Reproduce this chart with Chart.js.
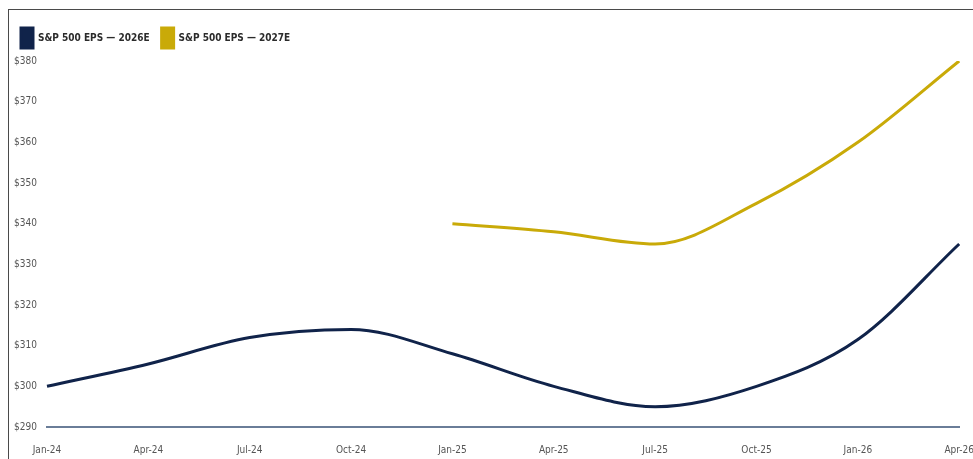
<!DOCTYPE html>
<html>
<head>
<meta charset="utf-8">
<script src="https://cdn.jsdelivr.net/npm/chart.js@4"></script>
<style>
html,body{margin:0;padding:0;background:#fff;overflow:hidden;width:973px;height:459px;}
#frame{position:absolute;left:8px;top:9px;width:1010px;height:480px;border-left:1px solid #4a4a4a;border-top:1px solid #4a4a4a;}
#wrap{position:absolute;left:0;top:0;width:982px;height:463px;}
</style>
</head>
<body>
<div id="frame"><div id="wrap"><canvas id="c"></canvas></div></div>
<script>
const categories = ["Jan-24","Apr-24","Jul-24","Oct-24","Jan-25","Apr-25","Jul-25","Oct-25","Jan-26","Apr-26"];
const eps2026 = [300, 305.5, 312, 314, 308, 300, 295, 300, 311.5, 335];
const eps2027 = [null, null, null, null, 340, 338, 335, 345, 360, 380];
const yTicks = [290,300,310,320,330,340,350,360,370,380];

const FONT = "'Liberation Sans Narrow','Arial Narrow','DejaVu Sans Condensed','Liberation Sans',sans-serif";

const legendGap = {
  id: 'legendGap',
  afterInit(chart) {
    const lg = chart.legend;
    if (!lg) return;
    const fit = lg.fit;
    lg.fit = function () { fit.call(this); this.height += 3; };
  }
};

new Chart(document.getElementById('c'), {
  type: 'line',
  data: {
    labels: categories,
    datasets: [
      {label: 'S&P 500 EPS \u2014 2026E', data: eps2026, borderColor: '#10234a', backgroundColor: '#10234a', borderWidth: 3, pointRadius: 0, cubicInterpolationMode: 'monotone', fill: false},
      {label: 'S&P 500 EPS \u2014 2027E', data: eps2027, borderColor: '#c9aa08', backgroundColor: '#c9aa08', borderWidth: 3, pointRadius: 0, cubicInterpolationMode: 'monotone', fill: false, spanGaps: false}
    ]
  },
  plugins: [legendGap],
  options: {
    responsive: true,
    maintainAspectRatio: false,
    animation: false,
    layout: {padding: {left: 0, top: 6, right: 0, bottom: 0}},
    plugins: {
      legend: {
        position: 'top', align: 'start',
        labels: {boxWidth: 12, boxHeight: 20, padding: 12, color: '#2b2b2b', font: {family: FONT, size: 10, weight: 'bold'}}
      },
      tooltip: {enabled: false}
    },
    scales: {
      x: {
        offset: false,
        grid: {display: false, drawTicks: false},
        border: {display: true, color: '#6a7d98', width: 2},
        ticks: {color: '#555', padding: 17, maxRotation: 0, autoSkip: false, font: {family: FONT, size: 10}}
      },
      y: {
        min: 290, max: 380,
        afterBuildTicks: (s) => { s.ticks = yTicks.map(v => ({value: v})); },
        afterFit: (s) => { s.width = 38; },
        grid: {display: false, drawTicks: false},
        border: {display: false},
        ticks: {color: '#555', padding: 10, font: {family: FONT, size: 10}, callback: (v) => '$' + v}
      }
    }
  }
});
</script>
</body>
</html>
